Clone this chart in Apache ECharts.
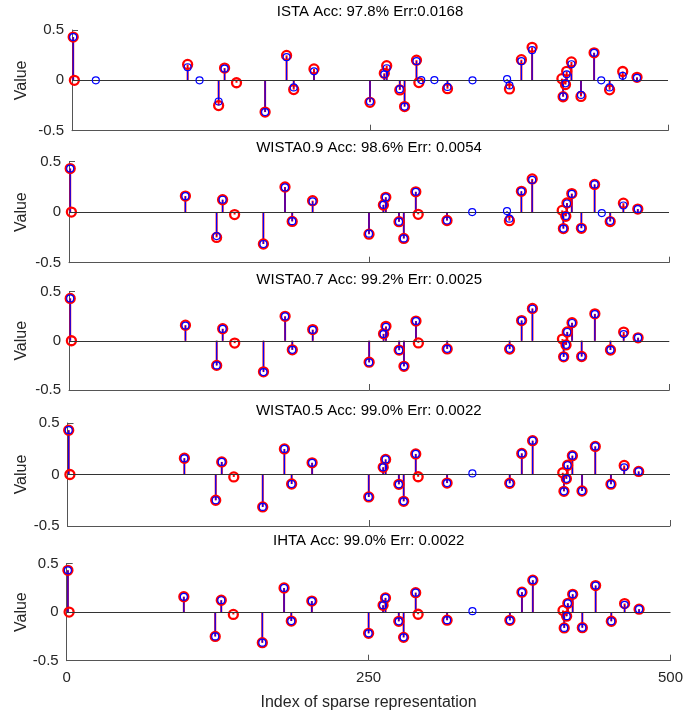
<!DOCTYPE html>
<html>
<head>
<meta charset="utf-8">
<script src="https://cdn.jsdelivr.net/npm/echarts@6/dist/echarts.min.js"></script>
<style>
  html, body { margin: 0; padding: 0; background: #fff; }
  #chart { width: 686px; height: 718px; }
</style>
</head>
<body>
<div id="chart"></div>
<script>
// Ground truth support (red) – same in every panel
const trueIdx = [1, 2, 97, 123, 128, 138, 162, 180, 186, 203, 250, 262, 264, 275, 279, 289, 291, 315, 367, 377, 386, 411, 412, 414, 415, 419, 427, 438, 451, 462, 474];
const trueVal = [0.43, 0.0, 0.158, -0.25, 0.122, -0.024, -0.315, 0.248, -0.092, 0.113, -0.218, 0.07, 0.146, -0.095, -0.26, 0.2, -0.022, -0.083, -0.085, 0.205, 0.328, 0.017, -0.163, -0.042, 0.09, 0.183, -0.16, 0.273, -0.094, 0.088, 0.03];

// Recovered coefficients (blue), one pair of arrays per algorithm
const istaIdx = [1, 20, 97, 107, 123, 128, 162, 180, 186, 203, 250, 262, 264, 275, 279, 289, 293, 304, 315, 336, 365, 367, 377, 386, 412, 414, 415, 419, 427, 438, 444, 451, 462, 474];
const istaVal = [0.43, 0.0, 0.13, 0.0, -0.21, 0.117, -0.315, 0.23, -0.07, 0.09, -0.21, 0.06, 0.12, -0.088, -0.26, 0.19, 0.003, 0.003, -0.065, 0.0, 0.013, -0.05, 0.19, 0.30, -0.16, -0.03, 0.06, 0.16, -0.145, 0.273, 0.0, -0.07, 0.045, 0.025];

const wista9Idx = [1, 97, 123, 128, 162, 180, 186, 203, 250, 262, 264, 275, 279, 289, 315, 336, 365, 367, 377, 386, 412, 414, 415, 419, 427, 438, 444, 451, 462, 474];
const wista9Val = [0.43, 0.157, -0.237, 0.122, -0.315, 0.244, -0.09, 0.105, -0.213, 0.072, 0.146, -0.095, -0.26, 0.2, -0.083, 0.0, 0.01, -0.065, 0.205, 0.318, -0.163, -0.038, 0.085, 0.18, -0.158, 0.273, -0.01, -0.088, 0.065, 0.03];

const wista7Idx = [1, 97, 123, 128, 162, 180, 186, 203, 250, 262, 264, 275, 279, 289, 315, 367, 377, 386, 412, 414, 415, 419, 427, 438, 451, 462, 474];
const wista7Val = [0.43, 0.154, -0.25, 0.12, -0.318, 0.247, -0.092, 0.11, -0.22, 0.068, 0.14, -0.096, -0.26, 0.2, -0.082, -0.082, 0.205, 0.325, -0.164, -0.041, 0.089, 0.18, -0.16, 0.27, -0.092, 0.068, 0.031];

const wista5Idx = [1, 97, 123, 128, 162, 180, 186, 203, 250, 262, 264, 275, 279, 289, 315, 336, 367, 377, 386, 412, 414, 415, 419, 427, 438, 451, 462, 474];
const wista5Val = [0.43, 0.157, -0.25, 0.122, -0.315, 0.248, -0.092, 0.113, -0.218, 0.07, 0.146, -0.095, -0.26, 0.2, -0.083, 0.01, -0.085, 0.205, 0.328, -0.163, -0.042, 0.09, 0.183, -0.16, 0.273, -0.094, 0.07, 0.03];

const ihtaIdx = [1, 97, 123, 128, 162, 180, 186, 203, 250, 262, 264, 275, 279, 289, 315, 336, 367, 377, 386, 412, 414, 415, 419, 427, 438, 451, 462, 474];
const ihtaVal = [0.43, 0.157, -0.25, 0.122, -0.315, 0.248, -0.092, 0.113, -0.218, 0.07, 0.146, -0.095, -0.26, 0.2, -0.083, 0.01, -0.085, 0.205, 0.328, -0.163, -0.042, 0.09, 0.183, -0.16, 0.273, -0.094, 0.075, 0.03];

const titles = [
  'ISTA Acc: 97.8% Err:0.0168',
  'WISTA0.9 Acc: 98.6% Err: 0.0054',
  'WISTA0.7 Acc: 99.2% Err: 0.0025',
  'WISTA0.5 Acc: 99.0% Err: 0.0022',
  'IHTA Acc: 99.0% Err: 0.0022'
];
const estimates = [
  [istaIdx, istaVal],
  [wista9Idx, wista9Val],
  [wista7Idx, wista7Val],
  [wista5Idx, wista5Val],
  [ihtaIdx, ihtaVal]
];
const xTicks = [0, 250, 500];
const yTicks = [-0.5, 0, 0.5];

// panel boxes: [left, right, top, bottom]
const boxes = [
  [72, 668, 30, 130.7],
  [69, 669, 161.5, 262.7],
  [69, 669.3, 291.5, 390],
  [67.5, 670, 423, 526],
  [66.7, 670.7, 563.5, 660.7]
];
const titleY = [12, 148, 279.5, 410.5, 540.5];

const FONT = '"Liberation Sans", Arial, Helvetica, sans-serif';
const AXIS = '#555';
const pairs = (xs, ys) => xs.map((x, i) => [x, ys[i]]);

function stemSeries(i, data, color, width, z, withBase) {
  const s = {
    type: 'custom',
    xAxisIndex: i,
    yAxisIndex: i,
    data,
    z,
    silent: true,
    renderItem(params, api) {
      const p0 = api.coord([api.value(0), 0]);
      const p1 = api.coord([api.value(0), api.value(1)]);
      return {
        type: 'line',
        shape: { x1: p0[0], y1: p0[1], x2: p1[0], y2: p1[1] },
        style: { stroke: color, lineWidth: width }
      };
    }
  };
  if (withBase) {
    s.markLine = {
      silent: true,
      symbol: 'none',
      label: { show: false },
      lineStyle: { color: '#333', width: 1, type: 'solid' },
      data: [{ yAxis: 0 }]
    };
  }
  return s;
}

function circleSeries(i, data, color, size, bw, z) {
  return {
    type: 'scatter',
    xAxisIndex: i,
    yAxisIndex: i,
    data,
    z,
    silent: true,
    symbol: 'circle',
    symbolSize: size,
    itemStyle: { color: 'rgba(0,0,0,0)', borderColor: color, borderWidth: bw, opacity: 1 }
  };
}

const grid = [], xAxis = [], yAxis = [], series = [], graphic = [];
boxes.forEach(([l, r, t, b], i) => {
  const last = i === boxes.length - 1;
  grid.push({ left: l, top: t, width: r - l, height: b - t });
  xAxis.push({
    gridIndex: i,
    type: 'value',
    min: xTicks[0],
    max: xTicks[xTicks.length - 1],
    interval: xTicks[1] - xTicks[0],
    splitLine: { show: false },
    axisLine: { show: true, onZero: false, lineStyle: { color: AXIS, width: 1 } },
    axisTick: { show: true, inside: true, length: 6, lineStyle: { color: AXIS } },
    axisLabel: { show: last, margin: 10, fontFamily: FONT, fontSize: 15, color: '#262626' },
    name: last ? 'Index of sparse representation' : '',
    nameLocation: 'middle',
    nameGap: 34,
    nameMoveOverlap: false,
    nameTextStyle: { fontFamily: FONT, fontSize: 16, color: '#262626' }
  });
  yAxis.push({
    gridIndex: i,
    type: 'value',
    min: yTicks[0],
    max: yTicks[yTicks.length - 1],
    interval: yTicks[1] - yTicks[0],
    splitLine: { show: false },
    axisLine: { show: true, onZero: false, lineStyle: { color: AXIS, width: 1 } },
    axisTick: { show: true, inside: true, length: 6, lineStyle: { color: AXIS } },
    axisLabel: { margin: 8, fontFamily: FONT, fontSize: 15, color: '#262626' },
    name: 'Value',
    nameLocation: 'middle',
    nameRotate: 90,
    nameGap: l - 30,
    nameMoveOverlap: false,
    nameTextStyle: { fontFamily: FONT, fontSize: 16, color: '#262626' }
  });

  const truth = pairs(trueIdx, trueVal);
  const est = pairs(estimates[i][0], estimates[i][1]);
  series.push(stemSeries(i, truth, '#ff0000', 2, 2, true));
  series.push(stemSeries(i, est, '#0000ff', 1.2, 3, false));
  series.push(circleSeries(i, truth, '#ff0000', 9, 2.3, 4));
  series.push(circleSeries(i, est, '#0000ff', 7, 1.2, 5));

  graphic.push({
    type: 'text',
    x: (l + r) / 2,
    y: titleY[i],
    style: {
      text: titles[i],
      font: '15px ' + FONT,
      fill: '#000',
      textAlign: 'center',
      textVerticalAlign: 'middle'
    },
    silent: true
  });
});

const chart = echarts.init(document.getElementById('chart'), null, { renderer: 'canvas' });
chart.setOption({
  animation: false,
  backgroundColor: '#fff',
  grid,
  xAxis,
  yAxis,
  series,
  graphic
});
</script>
</body>
</html>
